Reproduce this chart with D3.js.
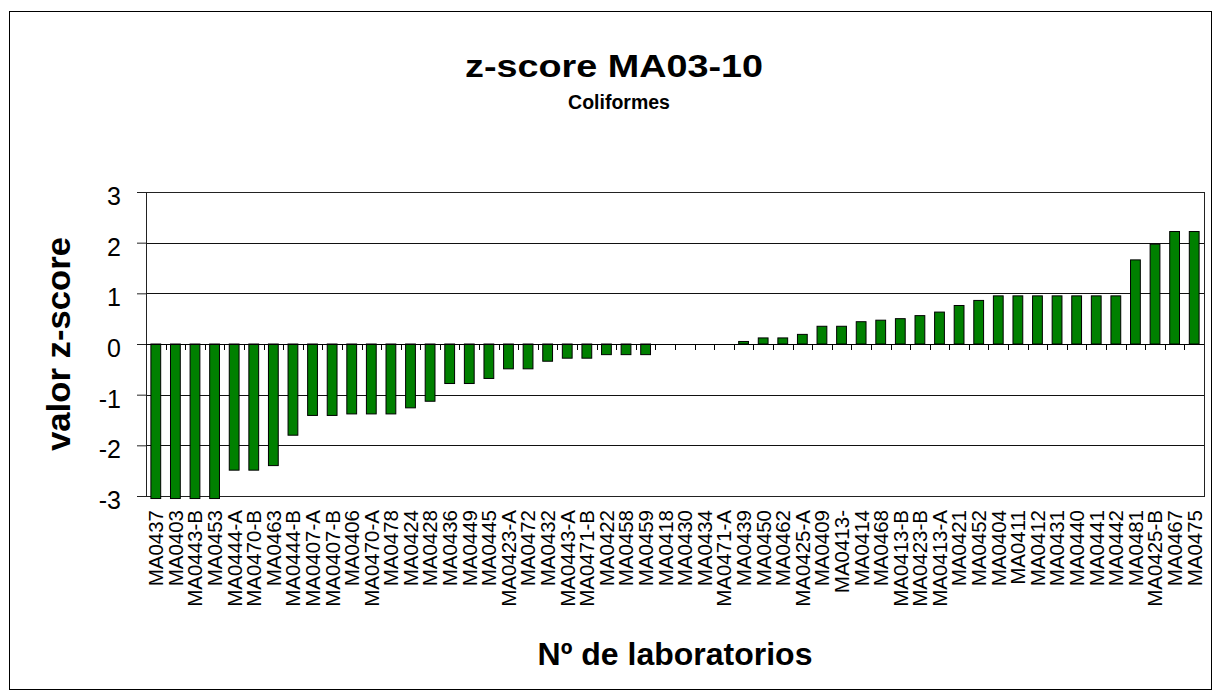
<!DOCTYPE html>
<html>
<head>
<meta charset="utf-8">
<script src="https://cdn.jsdelivr.net/npm/d3@7"></script>
<style>
  body { margin: 0; background: #fff; }
  text { font-family: Arial, "Liberation Sans", sans-serif; }
</style>
</head>
<body>
<div id="vis"></div>
<script>
const width = 1217;
const height = 696;

// laboratorios, in the order they appear on the x axis
const labs = [
  "MA0437", "MA0403", "MA0443-B", "MA0453", "MA0444-A", "MA0470-B", "MA0463", "MA0444-B",
  "MA0407-A", "MA0407-B", "MA0406", "MA0470-A", "MA0478", "MA0424", "MA0428", "MA0436",
  "MA0449", "MA0445", "MA0423-A", "MA0472", "MA0432", "MA0443-A", "MA0471-B", "MA0422",
  "MA0458", "MA0459", "MA0418", "MA0430", "MA0434", "MA0471-A", "MA0439", "MA0450",
  "MA0462", "MA0425-A", "MA0409", "MA0413-", "MA0414", "MA0468", "MA0413-B", "MA0423-B",
  "MA0413-A", "MA0421", "MA0452", "MA0404", "MA0411", "MA0412", "MA0431", "MA0440",
  "MA0441", "MA0442", "MA0481", "MA0425-B", "MA0467", "MA0475"
];

// z-score values (first four run off the bottom of the axis)
const zscores = [
  -3.05, -3.05, -3.05, -3.05, -2.49, -2.49, -2.40, -1.80,
  -1.41, -1.41, -1.38, -1.38, -1.38, -1.26, -1.13, -0.78,
  -0.78, -0.68, -0.49, -0.49, -0.34, -0.28, -0.28, -0.21,
  -0.21, -0.21, 0, 0, 0, 0, 0.05, 0.12,
  0.12, 0.19, 0.35, 0.35, 0.44, 0.47, 0.50, 0.56,
  0.63, 0.76, 0.86, 0.95, 0.95, 0.95, 0.95, 0.95,
  0.95, 0.95, 1.66, 1.97, 2.22, 2.22
];

const yTicks = [-3, -2, -1, 0, 1, 2, 3];

const title = "z-score MA03-10";
const subtitle = "Coliformes";
const xTitle = "Nº de laboratorios";
const yTitle = "valor z-score";

const margin = { top: 192, right: 13, bottom: 200, left: 146 };
const plotW = width - margin.left - margin.right;
const plotH = height - margin.top - margin.bottom;

const svg = d3.select("#vis").append("svg")
  .attr("width", width)
  .attr("height", height);

svg.append("rect")
  .attr("width", width).attr("height", height)
  .attr("fill", "#fff");

// outer chart border
svg.append("rect")
  .attr("x", 9.5).attr("y", 11.5)
  .attr("width", 1202).attr("height", 678)
  .attr("fill", "none")
  .attr("stroke", "#000")
  .attr("stroke-width", 1);

const g = svg.append("g")
  .attr("transform", "translate(" + margin.left + "," + margin.top + ")");

const x = d3.scaleBand()
  .domain(labs)
  .range([0, plotW])
  .paddingInner(0.5)
  .paddingOuter(0.25);

const y = d3.scaleLinear()
  .domain([-3, 3])
  .range([plotH, 0]);

// gridlines
g.selectAll(".grid")
  .data(yTicks)
  .enter().append("line")
  .attr("x1", 0).attr("x2", plotW)
  .attr("y1", d => Math.round(y(d)) + 0.5)
  .attr("y2", d => Math.round(y(d)) + 0.5)
  .attr("stroke", "#111")
  .attr("stroke-width", 1);

// plot frame
g.append("rect")
  .attr("x", 0.5).attr("y", 0.5)
  .attr("width", plotW).attr("height", plotH)
  .attr("fill", "none")
  .attr("stroke", "#222");

// y axis (plain hyphen for negatives, like the original)
const yAxis = g.append("g")
  .call(d3.axisLeft(y).tickValues(yTicks).tickSize(9).tickPadding(16).tickFormat(d => String(d)));
yAxis.select(".domain").remove();
yAxis.selectAll("line").attr("stroke", "#222");
yAxis.selectAll("text")
  .attr("font-size", 25)
  .attr("fill", "#000")
  .attr("dy", "0.5em");

// bars
g.selectAll(".bar")
  .data(zscores.map((v, i) => ({ lab: labs[i], v: v })))
  .enter().append("rect")
  .attr("class", "bar")
  .attr("x", d => x(d.lab))
  .attr("width", x.bandwidth())
  .attr("y", d => y(Math.max(0, d.v)))
  .attr("height", d => Math.abs(y(d.v) - y(0)))
  .attr("fill", "#008000")
  .attr("stroke", "#000")
  .attr("stroke-width", 1);

// x axis along zero, ticks between categories
const step = x.step();
const bounds = d3.range(1, labs.length).map(i => x(labs[i]) - step * 0.25);
g.append("line")
  .attr("x1", 0).attr("x2", plotW)
  .attr("y1", Math.round(y(0)) + 0.5).attr("y2", Math.round(y(0)) + 0.5)
  .attr("stroke", "#000");
g.selectAll(".xtick")
  .data(bounds)
  .enter().append("line")
  .attr("x1", d => Math.round(d) + 0.5).attr("x2", d => Math.round(d) + 0.5)
  .attr("y1", y(0)).attr("y2", y(0) + 6)
  .attr("stroke", "#000");

// category labels, rotated
g.selectAll(".xlabel")
  .data(labs)
  .enter().append("text")
  .attr("transform", d => "translate(" + (x(d) + x.bandwidth() / 2) + "," + (plotH + 14) + ") rotate(-90)")
  .attr("text-anchor", "end")
  .attr("dy", "0.36em")
  .attr("font-size", 20.5)
  .attr("fill", "#000")
  .text(d => d);

// titles
svg.append("text")
  .attr("x", 614).attr("y", 77)
  .attr("text-anchor", "middle")
  .attr("font-size", 31)
  .attr("font-weight", "bold")
  .attr("textLength", 298)
  .attr("lengthAdjust", "spacingAndGlyphs")
  .text(title);

svg.append("text")
  .attr("x", 619).attr("y", 109)
  .attr("text-anchor", "middle")
  .attr("font-size", 19.5)
  .attr("font-weight", "bold")
  .text(subtitle);

svg.append("text")
  .attr("x", margin.left + plotW / 2).attr("y", 665)
  .attr("text-anchor", "middle")
  .attr("font-size", 32)
  .attr("font-weight", "bold")
  .text(xTitle);

svg.append("text")
  .attr("transform", "translate(70," + (margin.top + y(0)) + ") rotate(-90)")
  .attr("text-anchor", "middle")
  .attr("font-size", 33)
  .attr("font-weight", "bold")
  .attr("textLength", 214)
  .attr("lengthAdjust", "spacingAndGlyphs")
  .text(yTitle);
</script>
</body>
</html>
